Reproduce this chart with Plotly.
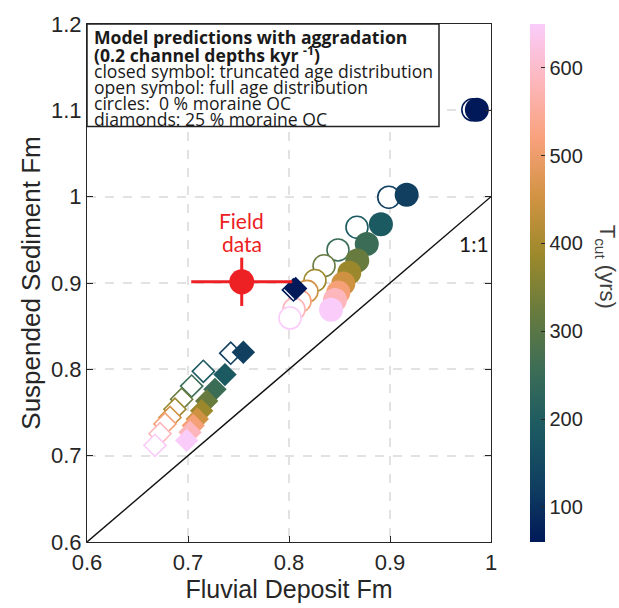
import plotly.graph_objects as go

# ---------------- data ----------------
t_cut = [60, 125, 190, 255, 320, 385, 450, 515, 585, 650]

# circles: 0 % moraine OC
circ_closed_x = [0.986, 0.9165, 0.891, 0.877, 0.8676, 0.8597, 0.8538, 0.8488, 0.8455, 0.8416]
circ_closed_y = [1.1006, 1.0023, 0.968, 0.9451, 0.926, 0.912, 0.8994, 0.8891, 0.8803, 0.8689]
circ_open_x = [0.982, 0.8988, 0.8673, 0.8485, 0.8347, 0.8257, 0.8178, 0.8109, 0.8050, 0.8010]
circ_open_y = [1.1006, 0.9994, 0.9646, 0.9383, 0.9200, 0.9029, 0.8903, 0.8789, 0.8697, 0.8594]

# diamonds: 25 % moraine OC
diam_closed_x = [0.8066, 0.7548, 0.7366, 0.7267, 0.7185, 0.7135, 0.7092, 0.7052, 0.7020, 0.6987]
diam_closed_y = [0.8937, 0.8198, 0.7939, 0.7768, 0.7634, 0.7520, 0.7425, 0.7349, 0.7272, 0.7177]
diam_open_x = [0.8044, 0.7423, 0.7152, 0.7036, 0.6937, 0.6871, 0.6822, 0.6772, 0.6723, 0.6673]
diam_open_y = [0.8920, 0.8187, 0.7977, 0.7806, 0.7654, 0.7539, 0.7443, 0.7368, 0.7254, 0.7120]

field_x = [0.7532]
field_y = [0.9014]
field_xerr = [0.05]
field_yerr = [0.028]

one_to_one = [0.6, 1.0]

xticks = [0.6, 0.7, 0.8, 0.9, 1.0]
xticklabels = ["0.6", "0.7", "0.8", "0.9", "1"]
yticks = [0.6, 0.7, 0.8, 0.9, 1.0, 1.1, 1.2]
yticklabels = ["0.6", "0.7", "0.8", "0.9", "1", "1.1", "1.2"]
cbar_ticks = [100, 200, 300, 400, 500, 600]

legend_lines = [
    "<b>Model predictions with aggradation</b>",
    "<b>(0.2 channel depths kyr <sup>-1</sup>)</b>",
    "closed symbol: truncated age distribution",
    "open symbol: full age distribution",
    "circles:  0 % moraine OC",
    "diamonds: 25 % moraine OC",
]

# ---------------- style ----------------
batlow = [
    [0.000, "#011959"], [0.111, "#103F60"], [0.222, "#1C5A62"],
    [0.333, "#3C6D56"], [0.444, "#687B3E"], [0.556, "#9D892B"],
    [0.667, "#D29343"], [0.778, "#F8A17B"], [0.889, "#FDB7BC"],
    [1.000, "#FACCFA"],
]
AX = "#262626"
RED = "#ED2024"
TF = "Liberation Sans"
LF = "Open Sans"
LF2 = "Lato"

fig = go.Figure()

# 1:1 line
fig.add_trace(go.Scatter(x=one_to_one, y=one_to_one, mode="lines",
                         line=dict(color="#111111", width=1.4),
                         hoverinfo="skip", showlegend=False))

# open circles
fig.add_trace(go.Scatter(x=circ_open_x, y=circ_open_y, mode="markers",
                         marker=dict(symbol="circle", size=22, color="white",
                                     line=dict(color=t_cut, coloraxis="coloraxis", width=1.6)),
                         showlegend=False))
# open diamonds
fig.add_trace(go.Scatter(x=diam_open_x, y=diam_open_y, mode="markers",
                         marker=dict(symbol="diamond", size=17, color="white",
                                     line=dict(color=t_cut, coloraxis="coloraxis", width=1.6)),
                         showlegend=False))
# closed circles
fig.add_trace(go.Scatter(x=circ_closed_x, y=circ_closed_y, mode="markers",
                         marker=dict(symbol="circle", size=24, color=t_cut,
                                     coloraxis="coloraxis", line=dict(width=0)),
                         showlegend=False))
# closed diamonds
fig.add_trace(go.Scatter(x=diam_closed_x, y=diam_closed_y, mode="markers",
                         marker=dict(symbol="diamond", size=18, color=t_cut,
                                     coloraxis="coloraxis", line=dict(width=0)),
                         showlegend=False))
# field data
fig.add_trace(go.Scatter(x=field_x, y=field_y, mode="markers",
                         marker=dict(symbol="circle", size=25, color=RED, line=dict(width=0)),
                         error_x=dict(type="data", array=field_xerr, color=RED, thickness=3, width=0),
                         error_y=dict(type="data", array=field_yerr, color=RED, thickness=3, width=0),
                         showlegend=False))

W, H = 619, 608
L, R, T, B = 87, 128, 18, 65
pw = W - L - R
ph = H - T - B

def px(xp):
    return (xp - L) / pw

def py(yp):
    return (H - B - yp) / ph

axis_common = dict(showline=True, linecolor=AX, linewidth=1.2, mirror="ticks",
                   ticks="inside", ticklen=6, tickcolor=AX, tickwidth=1.2,
                   showgrid=True, gridcolor="#E2E2E2", gridwidth=1.5, griddash="dash",
                   zeroline=False, tickfont=dict(family=TF, size=22, color=AX))

fig.update_layout(
    width=W, height=H,
    margin=dict(l=L, r=R, t=T, b=B),
    plot_bgcolor="white", paper_bgcolor="white",
    xaxis=dict(range=[0.6, 1.0], tickvals=xticks, ticktext=xticklabels,
               title=dict(text="Fluvial Deposit Fm", font=dict(family=TF, size=25, color=AX), standoff=4),
               **axis_common),
    yaxis=dict(range=[0.6, 1.2], tickvals=yticks, ticktext=yticklabels,
               title=dict(text="Suspended Sediment Fm", font=dict(family=TF, size=26, color=AX), standoff=2),
               **axis_common),
    coloraxis=dict(colorscale=batlow, cmin=60, cmax=650,
                   colorbar=dict(x=px(530), xanchor="left", xpad=0, y=0.5, yanchor="middle",
                                 ypad=0, len=1, lenmode="fraction", thickness=15,
                                 outlinewidth=0, tickvals=cbar_ticks,
                                 ticks="inside", ticklen=4, tickcolor=AX,
                                 tickfont=dict(family=TF, size=20, color=AX))),
)

# legend box
fig.add_shape(type="rect", xref="paper", yref="paper",
              x0=0, x1=px(439), y0=py(122), y1=1,
              line=dict(color="#222222", width=1.5), fillcolor="white", layer="above")
line_y = [31.5, 48.5, 65.5, 82, 98.5, 114.5]
for txt, ly in zip(legend_lines, line_y):
    fig.add_annotation(x=px(92), y=py(ly), xref="paper", yref="paper",
                       text=txt, showarrow=False, xanchor="left", yanchor="middle",
                       font=dict(family=LF, size=17.6, color="#1a1a1a"))

# field data label
fig.add_annotation(x=0.7532, y=0.9726, text="Field", showarrow=False,
                   font=dict(family=LF2, size=21, color=RED), xanchor="center", yanchor="middle")
fig.add_annotation(x=0.7532, y=0.9463, text="data", showarrow=False,
                   font=dict(family=LF2, size=21, color=RED), xanchor="center", yanchor="middle")
# 1:1 label
fig.add_annotation(x=0.983, y=0.946, text="1:1", showarrow=False,
                   font=dict(family=LF2, size=21, color="#1a1a1a"), xanchor="center", yanchor="middle")

# colorbar title
fig.add_annotation(x=px(606), y=py(264), xref="paper", yref="paper",
                   text="T<sub>cut</sub> (yrs)", textangle=90, showarrow=False,
                   font=dict(family=TF, size=22, color="#404040"),
                   xanchor="center", yanchor="middle")

fig.write_html("out.html")
